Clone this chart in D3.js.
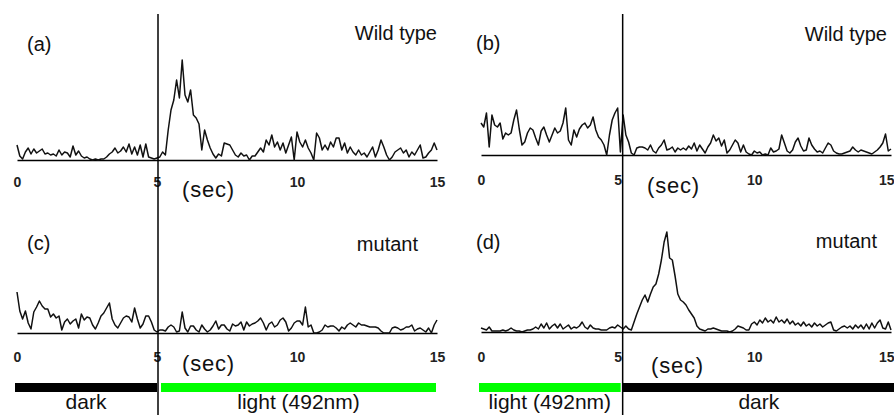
<!DOCTYPE html>
<html>
<head>
<meta charset="utf-8">
<script src="https://cdn.jsdelivr.net/npm/d3@7"></script>
<style>
  html, body { margin: 0; padding: 0; background: #fff; overflow: hidden; }
  svg { display: block; font-family: "Liberation Sans", Arial, sans-serif; }
</style>
</head>
<body>
<svg id="chart" width="894" height="415"></svg>
<script>
// ---------- data ----------
const sampleStep = 0.1; // seconds between samples
const tickValues = [0, 5, 10, 15];
const tickLabels = ["0", "5", "10", "15"];
const panelIds = ["(a)", "(b)", "(c)", "(d)"];
const panelNames = ["Wild type", "Wild type", "mutant", "mutant"];
const axisLabel = "(sec)";

// (a) wild type, dark -> light (signal, arbitrary units)
const seriesA = [
  15,4,1,8,12,6,11,7,9,11,
  6,7,5,6,4,10,5,8,7,3,
  14,5,9,4,2,3,1,0,1,0,
  1,1,3,6,8,12,7,9,13,8,
  16,6,13,5,15,3,16,3,2,1,
  2,3,8,5,30,50,60,80,62,100,
  65,58,70,45,42,36,10,30,20,12,
  6,2,6,4,17,16,15,10,5,3,
  7,4,5,0,4,4,8,12,8,20,
  15,25,13,18,10,17,7,15,23,0,
  28,18,13,20,12,7,0,27,22,10,
  15,10,18,13,22,22,10,17,7,13,
  8,5,10,5,7,3,8,13,3,10,
  20,13,5,0,3,8,10,12,7,10,
  3,8,5,10,15,2,3,7,10,17,
  10
];
// (b) wild type, light -> dark
const seriesB = [
  32,28,42,8,40,30,28,32,16,22,
  20,22,35,45,26,10,13,22,27,25,
  17,10,24,28,20,13,20,27,22,24,
  32,47,15,10,25,18,26,30,32,27,
  30,38,25,18,15,10,0,20,35,42,
  47,3,40,20,13,2,0,7,8,8,
  7,5,10,4,2,7,10,15,5,6,
  8,3,7,5,7,5,9,6,12,4,
  10,6,2,8,12,20,14,17,9,15,
  2,5,10,15,12,3,10,3,1,0,
  4,2,3,0,1,0,7,3,4,6,
  20,12,4,2,5,13,17,9,4,5,
  17,10,6,3,4,2,7,12,10,4,
  2,1,1,2,3,4,8,5,3,5,
  4,3,2,1,3,5,8,12,21,4,
  6
];
// (c) mutant, dark -> light
const seriesC = [
  41,22,14,22,10,4,21,26,32,27,
  24,24,16,19,15,17,3,11,14,9,
  12,14,5,19,13,16,15,8,4,10,
  17,20,25,30,14,8,5,10,15,17,
  16,11,25,14,5,9,17,17,11,3,
  1,3,3,2,6,8,6,1,2,21,
  5,1,7,7,3,1,8,4,1,3,
  7,12,4,8,8,4,2,9,7,8,
  11,3,11,7,9,10,12,15,10,3,
  9,11,6,8,13,15,11,2,5,10,
  12,12,8,26,6,8,0,0,1,3,
  8,6,7,7,5,2,6,4,8,10,
  8,6,10,8,8,7,6,6,6,5,
  2,0,0,0,5,6,5,3,4,6,
  6,8,2,4,5,3,1,5,0,8,
  13
];
// (d) mutant, light -> dark
const seriesD = [
  4,3,2,5,1,1,1,1,2,1,
  2,4,2,1,1,0,1,2,2,3,
  5,3,8,4,9,3,6,8,4,8,
  3,5,7,3,5,4,6,10,5,3,
  7,4,3,3,2,2,2,4,5,4,
  7,5,3,6,3,2,10,18,25,32,
  37,30,38,45,48,58,72,90,100,74,
  72,56,38,32,30,27,22,18,14,6,
  3,2,1,3,3,4,3,2,1,1,
  1,0,1,3,6,5,4,2,2,8,
  10,7,12,9,14,10,12,9,15,10,
  12,9,13,8,11,7,9,6,10,6,
  8,5,9,6,8,5,7,9,10,2,
  1,3,5,6,4,6,3,7,4,7,
  3,8,3,9,4,9,12,4,3,10,
  2
];

// illumination protocol per column
const leftPhases  = [{from: 0, to: 5, state: "dark"},  {from: 5, to: 15, state: "light"}];
const rightPhases = [{from: 0, to: 5, state: "light"}, {from: 5, to: 15, state: "dark"}];
const phaseNames = {dark: "dark", light: "light (492nm)"};

// ---------- layout / style ----------
const phaseColors = {dark: "#000000", light: "#00ff00"};
const W = 894;
const svg = d3.select("#chart");

const columns = [
  {x0: 17,  x1: 437, divOffset: 1, phases: leftPhases},
  {x0: 481, x1: 891, divOffset: 5, phases: rightPhases}
];
columns.forEach(c => {
  c.x = d3.scaleLinear().domain([0, 15]).range([c.x0, c.x1]);
});

const panels = [
  {col: 0, data: seriesA, base: 160, tickY: 27, idX: 27,  idY: 51,  nameX: 437, nameY: 40,  secX: 182, secY: 197},
  {col: 1, data: seriesB, base: 155, tickY: 30, idX: 476, idY: 50,  nameX: 887, nameY: 41,  secX: 647, secY: 193},
  {col: 0, data: seriesC, base: 333, tickY: 29, idX: 27,  idY: 250, nameX: 418, nameY: 251, secX: 182, secY: 371},
  {col: 1, data: seriesD, base: 332, tickY: 30, idX: 476, idY: 249, nameX: 877, nameY: 248, secX: 651, secY: 373}
];

panels.forEach((p, i) => {
  const c = columns[p.col];
  const x = c.x;
  const y = d3.scaleLinear().domain([0, 100]).range([p.base, p.base - 100]);
  const g = svg.append("g");

  // axis (baseline + tick labels)
  const axis = d3.axisBottom(x).tickValues(tickValues)
    .tickFormat((d, k) => tickLabels[k]).tickSize(0).tickSizeOuter(0).tickPadding(0);
  const ax = g.append("g").attr("transform", `translate(0,${p.base})`).call(axis);
  ax.select(".domain").attr("stroke", "#000").attr("stroke-width", 1.6);
  ax.selectAll(".tick text")
    .attr("dy", null).attr("y", p.tickY)
    .attr("font-size", 14).attr("font-weight", "bold").attr("fill", "#222")
    .attr("font-family", "'Liberation Sans', Arial, sans-serif")
    .each(function(d) {
      // keep labels inside the window
      const tx = x(d);
      if (tx + 8 > W) d3.select(this).attr("text-anchor", "end").attr("x", W - tx);
    });

  // trace
  const line = d3.line().x((d, k) => x(k * sampleStep)).y(d => y(d));
  g.append("path").datum(p.data)
    .attr("d", line).attr("fill", "none")
    .attr("stroke", "#111").attr("stroke-width", 1.5).attr("stroke-linejoin", "round");

  // labels
  g.append("text").attr("x", p.idX).attr("y", p.idY).attr("font-size", 20).attr("fill", "#111").text(panelIds[i]);
  g.append("text").attr("x", p.nameX).attr("y", p.nameY).attr("font-size", 20).attr("fill", "#111")
    .attr("text-anchor", "end").text(panelNames[i]);
  g.append("text").attr("x", p.secX).attr("y", p.secY).attr("font-size", 22)
    .attr("letter-spacing", 0.8).attr("fill", "#111").text(axisLabel);
});

// phase bars + labels + divider per column
columns.forEach(c => {
  const x = c.x;
  const barY = 383, barH = 9;
  c.phases.forEach((ph, k) => {
    const first = k === 0;
    const xa = first ? x(ph.from) - 2 : x(ph.from) + (ph.state === "light" ? 4 : 5);
    const xb = first ? x(ph.to) + (ph.state === "light" ? 3 : 0) : x(ph.to) + (ph.state === "dark" ? 4 : -1);
    svg.append("rect").attr("x", xa).attr("y", barY).attr("width", xb - xa).attr("height", barH)
      .attr("fill", phaseColors[ph.state]);
    svg.append("text").attr("x", (xa + xb) / 2)
      .attr("y", 409).attr("font-size", 21).attr("fill", "#111").attr("text-anchor", "middle")
      .text(phaseNames[ph.state]);
  });
  svg.append("line")
    .attr("x1", x(5) + c.divOffset).attr("x2", x(5) + c.divOffset)
    .attr("y1", 14).attr("y2", 415)
    .attr("stroke", "#000").attr("stroke-width", 1.5);
});
</script>
</body>
</html>
